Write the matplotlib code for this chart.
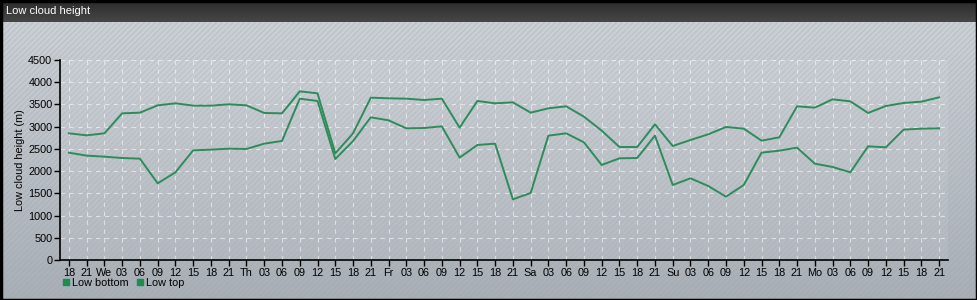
import numpy as np
import matplotlib
matplotlib.use("Agg")
import matplotlib.pyplot as plt
from matplotlib.patches import Rectangle
from matplotlib.lines import Line2D

plt.rcParams['font.family'] = ['Liberation Sans', 'DejaVu Sans']

# tick labels (3-hourly steps)
labels = ["18", "21", "We", "03", "06", "09", "12", "15", "18", "21",
          "Th", "03", "06", "09", "12", "15", "18", "21",
          "Fr", "03", "06", "09", "12", "15", "18", "21",
          "Sa", "03", "06", "09", "12", "15", "18", "21",
          "Su", "03", "06", "09", "12", "15", "18", "21",
          "Mo", "03", "06", "09", "12", "15", "18", "21"]

low_bottom = [2415, 2348, 2325, 2295, 2280, 1725, 1973, 2468, 2483, 2505,
              2498, 2618, 2678, 3630, 3578, 2272, 2677, 3210, 3143, 2963,
              2970, 3008, 2303, 2588, 2618, 1365, 1508, 2798, 2850, 2648,
              2138, 2288, 2295, 2798, 1688, 1838, 1665, 1425, 1688, 2415,
              2460, 2528, 2168, 2093, 1973, 2558, 2535, 2933, 2955, 2963]

low_top = [2850, 2805, 2850, 3300, 3315, 3480, 3525, 3473, 3473, 3503,
           3480, 3308, 3300, 3795, 3750, 2400, 2850, 3653, 3638, 3630,
           3600, 3630, 2978, 3578, 3525, 3548, 3315, 3413, 3458, 3225,
           2910, 2543, 2543, 3053, 2565, 2700, 2828, 2993, 2955, 2685,
           2760, 3458, 3428, 3615, 3570, 3308, 3465, 3533, 3563, 3660]

W, H = 978, 300
fig = plt.figure(figsize=(W / 100, H / 100), dpi=100)

# background gradient + diagonal stripes
bg = fig.add_axes([0, 0, 1, 1])
bg.set_xlim(0, W)
bg.set_ylim(0, H)
bg.axis("off")
grad = np.linspace(0, 1, 256).reshape(-1, 1)
bg.imshow(grad, extent=[0, W, 0, H - 22], aspect="auto", origin="lower", zorder=0,
          cmap=matplotlib.colors.LinearSegmentedColormap.from_list("bg", ["#a9afb5", "#cdd1d6"]))
bg.add_patch(Rectangle((0, 0), W, H - 22, facecolor="none", edgecolor="#9aa6b4",
                       hatch="//////", linewidth=0, alpha=0.3, zorder=1))
# title bar
tgrad = np.linspace(0, 1, 64).reshape(-1, 1)
bg.imshow(tgrad, extent=[0, W, H - 22, H], aspect="auto", origin="lower", zorder=2,
          cmap=matplotlib.colors.LinearSegmentedColormap.from_list("tb", ["#474747", "#2a2a2a"]))
bg.text(6, H - 11, "Low cloud height", color="white", fontsize=8, va="center", ha="left", zorder=3)
bg.add_patch(Rectangle((0.5, 0.5), W - 1.5, H - 1.5, facecolor="none", edgecolor="black",
                       linewidth=2.5, zorder=4))

ax = fig.add_axes([60 / W, 40 / H, 888 / W, 200 / H])
ax.set_facecolor((1, 1, 1, 0.08))
x = np.arange(len(labels))
ax.plot(x, low_bottom, color="#2e8b5c", linewidth=1.4)
ax.plot(x, low_top, color="#2e8b5c", linewidth=1.4)

ax.set_xlim(-0.5, len(labels) - 0.5)
ax.set_ylim(0, 4500)
ax.set_yticks(np.arange(0, 4501, 500))
ax.set_xticks(x)
ax.set_xticklabels(labels)
ax.tick_params(axis="both", direction="out", length=4, width=1, colors="black", labelsize=7.8, pad=1.5)
ax.set_ylabel("Low cloud height (m)", fontsize=7.8, labelpad=2)
ax.grid(True, color="white", linestyle=(0, (4, 4)), linewidth=0.8, alpha=0.55)
for s in ["top", "right"]:
    ax.spines[s].set_visible(False)
ax.spines["left"].set_linewidth(1.2)
ax.spines["bottom"].set_linewidth(1.2)

handles = [Line2D([], [], marker="s", linestyle="none", color="#17904f", markersize=4.5, label="Low bottom"),
           Line2D([], [], marker="s", linestyle="none", color="#17904f", markersize=4.5, label="Low top")]
fig.legend(handles=handles, loc="center left", bbox_to_anchor=(55 / W, 17 / H), ncol=2, frameon=False,
           fontsize=7.8, handletextpad=0.05, columnspacing=0.6, handlelength=1.0, borderpad=0)

fig.savefig("out.png", dpi=100)
